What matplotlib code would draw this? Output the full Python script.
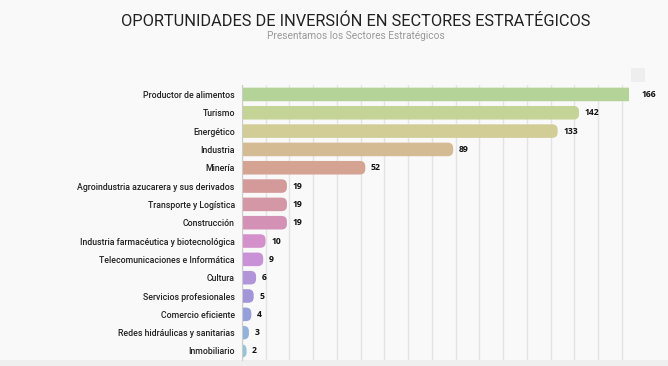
import matplotlib.pyplot as plt
from matplotlib.patches import FancyBboxPatch, Rectangle

# Datos
sectores = ['Productor de alimentos', 'Turismo', 'Energético', 'Industria', 'Minería',
            'Agroindustria azucarera y sus derivados', 'Transporte y Logística', 'Construcción',
            'Industria farmacéutica y biotecnológica', 'Telecomunicaciones e Informática',
            'Cultura', 'Servicios profesionales', 'Comercio eficiente',
            'Redes hidráulicas y sanitarias', 'Inmobiliario']
oportunidades = [166, 142, 133, 89, 52, 19, 19, 19, 10, 9, 6, 5, 4, 3, 2]
colores = ['#b3d398', '#c4d396', '#d2cd96', '#d5bb94', '#d5a391', '#d49a9a', '#d497a6',
           '#d491b6', '#d390cb', '#c991d6', '#b294d8', '#a396d8', '#959fd9', '#93b1d9', '#94c4d6']

fondo = '#f9f9f9'
fig = plt.figure(figsize=(6.68, 3.66), dpi=100, facecolor=fondo)
ax = fig.add_axes([0.362, 0.016, 0.5795, 0.751], facecolor=fondo)

y = list(range(len(sectores)))
bars = ax.barh(y, oportunidades, height=0.74, color=colores)

# Barras con esquinas redondeadas
asp = 2.38 / 18.3
for b, c in zip(bars, colores):
    b.set_visible(False)
    x0, y0, w, h = b.get_x(), b.get_y(), b.get_width(), b.get_height()
    p = FancyBboxPatch((x0 - 4, y0), w + 4, h, boxstyle='round,pad=0,rounding_size=2.3',
                       mutation_aspect=asp, facecolor=c, edgecolor='none', zorder=2)
    ax.add_patch(p)

for yi, v in zip(y, oportunidades):
    ax.annotate(str(v), (v, yi), xytext=(4, 0), textcoords='offset points',
                va='center', ha='left', fontsize=6.2, fontweight='bold', color='#111111',
                family='Open Sans', annotation_clip=False)

ax.set_xlim(0, 163)
ax.set_ylim(14.5, -0.5)
ax.set_xticks(range(0, 170, 10))
ax.set_xticklabels([])
ax.tick_params(axis='x', length=0)
ax.tick_params(axis='y', length=0, pad=5)
ax.set_yticks(y)
ax.set_yticklabels(sectores, fontsize=6.3, color='#222222', family='Roboto', fontweight='medium')
ax.grid(axis='x', color='#e4e4e4', linewidth=1, zorder=0)
ax.set_axisbelow(True)
for s in ['top', 'right', 'bottom']:
    ax.spines[s].set_visible(False)
ax.spines['left'].set_color('#cccccc')
ax.spines['left'].set_linewidth(0.8)

fig.text(0.532, 0.943, 'OPORTUNIDADES DE INVERSIÓN EN SECTORES ESTRATÉGICOS',
         ha='center', va='center', fontsize=11.8, color='#222222', family='Roboto')
fig.text(0.532, 0.903, 'Presentamos los Sectores Estratégicos', ha='center', va='center',
         fontsize=7.3, color='#999999', family='Roboto')

# botón de menú
fig.patches.append(Rectangle((631 / 668, 1 - 82 / 366), 14 / 668, 14 / 366,
                             transform=fig.transFigure, facecolor='#eeeeee', edgecolor='none'))
fig.patches.append(Rectangle((0, 0), 1, 6 / 366, transform=fig.transFigure,
                             facecolor='#efefef', edgecolor='none', zorder=-1))

fig.savefig('out.png', dpi=100, facecolor=fondo)
